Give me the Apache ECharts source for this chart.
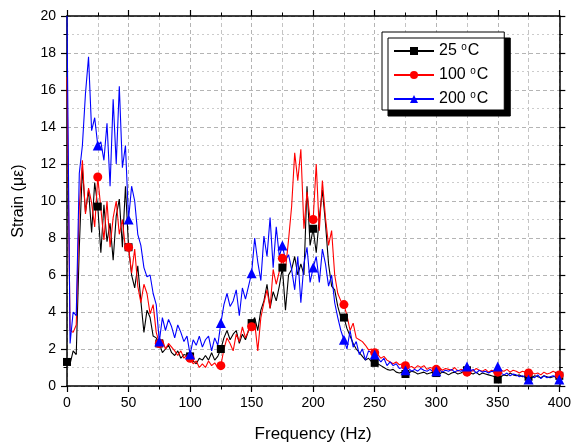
<!DOCTYPE html>
<html>
<head>
<meta charset="utf-8">
<script src="https://cdn.jsdelivr.net/npm/echarts@6/dist/echarts.min.js"></script>
<style>html,body{margin:0;padding:0;background:#fff;}#c{width:574px;height:448px;}</style>
</head>
<body>
<div id="c"></div>
<script>
const freqStep = 2.5;
const seriesNames = ['25 °C', '100 °C', '200 °C'];
const xTicks = [0, 50, 100, 150, 200, 250, 300, 350, 400];
const yTicks = [0, 2, 4, 6, 8, 10, 12, 14, 16, 18, 20];

// 25 °C (black), one row = 25 Hz
const strain25 = [
  1.3, 1.2, 1.9, 1.7, 7.5, 11.8, 9.4, 10.6, 8.3, 11.0,
  9.7, 7.2, 9.8, 7.8, 8.8, 6.8, 9.2, 10.1, 7.5, 10.8,
  7.5, 6.0, 5.3, 6.5, 4.6, 2.9, 4.1, 3.7, 2.7, 2.6,
  2.3, 1.8, 2.0, 2.2, 1.8, 1.65, 1.9, 1.5, 1.7, 1.65,
  1.6, 1.35, 1.2, 1.5, 1.4, 1.65, 1.4, 1.8, 1.4, 1.6,
  2.0, 2.6, 3.0, 2.5, 2.8, 3.0, 2.3, 2.8, 2.5, 3.0,
  3.4, 3.7, 3.0, 4.1, 4.6, 5.5, 4.2, 5.1, 4.6, 5.4,
  6.4, 4.1, 6.0, 6.3, 7.0, 6.0, 6.6, 6.0, 10.8, 7.6,
  8.5, 7.2, 9.1, 10.6, 8.8, 6.6, 5.4, 5.2, 4.3, 3.7,
  3.7, 3.1, 2.7, 2.3, 2.0, 1.8, 1.6, 1.4, 1.5, 1.3,
  1.25, 1.2, 1.1, 1.0, 0.9, 0.85, 0.9, 0.75, 0.7, 0.75,
  0.65, 0.7, 0.8, 0.75, 0.65, 0.7, 0.75, 0.65, 0.7, 0.75,
  0.7, 0.65, 0.75, 0.7, 0.6, 0.7, 0.75, 0.65, 0.7, 0.8,
  0.85, 0.7, 0.65, 0.75, 0.6, 0.7, 0.65, 0.6, 0.55, 0.5,
  0.35, 0.5, 0.6, 0.55, 0.7, 0.6, 0.55, 0.6, 0.5, 0.55,
  0.5, 0.45, 0.55, 0.5, 0.45, 0.55, 0.5, 0.45, 0.5, 0.55,
  0.55
];

// 100 °C (red)
const strain100 = [
  16.7, 3.0, 2.9, 3.3, 9.7, 12.2, 9.3, 10.7, 9.9, 8.6,
  11.3, 9.6, 7.9, 10.0, 7.5, 9.1, 10.0, 8.2, 9.0, 7.4,
  7.5, 6.1, 7.4, 5.4, 4.5, 5.5, 5.0, 3.9, 4.4, 2.9,
  2.3, 2.5, 2.0, 2.3, 2.1, 1.9, 1.65, 1.9, 1.5, 1.7,
  1.5, 1.2, 1.35, 1.0, 1.2, 1.0, 1.35, 1.1, 1.25, 1.0,
  1.1, 2.0, 2.6, 2.3, 1.9, 2.8, 2.4, 3.2, 2.6, 3.0,
  3.2, 3.4, 1.9, 3.7, 4.5, 5.2, 4.2, 6.3, 5.5, 6.2,
  6.9, 6.3, 7.9, 9.7, 12.6, 11.1, 12.8, 8.5, 10.5, 9.0,
  9.0, 12.0, 8.4, 11.1, 9.1, 7.6, 8.4, 6.0, 5.0, 4.6,
  4.4, 3.8, 3.0, 3.4, 2.6, 2.5, 2.4, 2.2, 1.95, 2.0,
  1.8, 1.7, 1.5, 1.6, 1.4, 1.3, 1.2, 1.3, 1.15, 1.2,
  1.1, 1.0, 1.05, 0.95, 1.1, 1.0, 1.1, 0.9, 1.0, 0.95,
  0.9, 1.0, 0.85, 0.95, 0.9, 0.85, 1.0, 0.8, 0.9, 0.85,
  0.75, 0.9, 0.8, 0.95, 0.85, 0.8, 0.9, 0.75, 0.85, 0.8,
  0.75, 0.85, 0.8, 0.9, 0.75, 0.85, 0.8, 0.7, 0.8, 0.75,
  0.7, 0.75, 0.65, 0.7, 0.6, 0.75, 0.65, 0.7, 0.8, 0.7,
  0.6
];

// 200 °C (blue)
const strain200 = [
  20, 2.3, 4.0, 3.8, 11.5, 13.0, 15.8, 17.8, 13.8, 14.5,
  13.0, 13.2, 12.2, 14.2, 10.8, 15.5, 12.0, 16.2, 11.8, 13.0,
  9.0, 10.8, 10.0, 8.2, 7.6, 6.4, 5.9, 6.0, 5.0, 4.4,
  2.4, 3.7, 3.0, 3.6, 3.2, 2.6, 3.3, 2.9, 2.4, 2.7,
  1.7, 2.5, 2.2, 2.7, 2.1, 2.5, 2.7, 1.9, 2.6, 2.2,
  3.4, 4.4, 5.0, 4.3, 4.6, 5.2, 3.8, 5.3, 4.7, 5.4,
  6.1, 8.0, 6.7, 5.7, 8.1, 7.0, 9.1, 6.4, 8.6, 7.0,
  7.6, 6.8, 7.1, 6.3, 5.2, 7.0, 4.5, 6.6, 7.5, 5.6,
  6.4, 7.0, 5.6, 7.4, 6.6, 5.4, 6.0, 4.5, 3.7, 3.0,
  2.5, 2.0, 3.0, 2.1, 2.4, 1.7, 2.0, 1.4, 1.9, 1.8,
  1.7, 1.5, 1.3, 1.5, 1.1, 1.3, 1.1, 1.2, 0.95, 1.0,
  0.85, 0.95, 0.8, 0.9, 0.8, 0.95, 0.85, 0.8, 0.9, 0.75,
  0.8, 0.9, 0.75, 0.85, 0.8, 0.9, 0.75, 0.85, 0.8, 0.9,
  1.05, 0.8, 0.9, 0.7, 0.85, 0.75, 0.8, 0.7, 0.8, 0.75,
  1.05, 0.7, 0.6, 0.7, 0.55, 0.65, 0.6, 0.5, 0.55, 0.45,
  0.35, 0.5, 0.45, 0.6, 0.4, 0.55, 0.45, 0.5, 0.55, 0.45,
  0.35
];

const pairs = arr => arr.map((v, i) => [i * freqStep, v]);
const markEvery = 10; // a symbol every 25 Hz

function makeSeries(name, data, color, symbol, size, skipFirst) {
  return {
    name: name, type: 'line', data: pairs(data),
    xAxisIndex: 0, yAxisIndex: 0,
    symbol: symbol, showSymbol: true, showAllSymbol: true,
    symbolSize: (val, p) => (p.dataIndex % markEvery === 0 && !(skipFirst && p.dataIndex === 0)) ? size : 0,
    lineStyle: { color: color, width: 1.1 },
    itemStyle: { color: color },
    emphasis: { disabled: true },
    clip: true, animation: false
  };
}

const axisCommon = {
  type: 'value',
  axisLine: { show: true, onZero: false, lineStyle: { color: '#000', width: 1.5 } },
  axisTick: { show: true, inside: false, length: 6, lineStyle: { color: '#000', width: 1.2 } },
  minorTick: { show: true, splitNumber: 2, length: 3.5, lineStyle: { color: '#000', width: 1 } }
};

const chart = echarts.init(document.getElementById('c'), null, { renderer: 'canvas' });
chart.setOption({
  backgroundColor: '#fff',
  animation: false,
  grid: { left: 67, right: 11, top: 16, bottom: 62, containLabel: false },
  legend: {
    data: seriesNames,
    orient: 'vertical', left: 382, top: 32,
    padding: [10, 16, 3, 11],
    itemWidth: 40, itemHeight: 10, itemGap: 7,
    backgroundColor: '#fff', borderColor: '#000', borderWidth: 1,
    shadowColor: '#000', shadowBlur: 0, shadowOffsetX: 6, shadowOffsetY: 6,
    formatter: n => { const num = n.split(' ')[0]; return '{a|' + num + ' }{b|o}{a|C}'; },
    textStyle: {
      color: '#000', fontFamily: 'Liberation Sans, Arial, sans-serif', fontSize: 16,
      rich: {
        a: { fontSize: 16, lineHeight: 18, color: '#000', fontFamily: 'Liberation Sans, Arial, sans-serif' },
        b: { fontSize: 10, lineHeight: 18, verticalAlign: 'top', color: '#000', fontFamily: 'Liberation Sans, Arial, sans-serif', padding: [0, 1, 0, 0] }
      }
    }
  },
  xAxis: [
    Object.assign({}, axisCommon, {
      min: xTicks[0], max: xTicks[xTicks.length - 1], interval: xTicks[1] - xTicks[0],
      position: 'bottom',
      name: 'Frequency (Hz)', nameLocation: 'middle', nameGap: 40,
      nameTextStyle: { fontSize: 17, color: '#000', fontFamily: 'Liberation Sans, Arial, sans-serif' },
      axisLabel: { show: true, margin: 10, fontSize: 14, color: '#000', fontFamily: 'Liberation Sans, Arial, sans-serif' },
      splitLine: { show: true, lineStyle: { color: '#b4b4b4', type: [4, 3], width: 1 } },
      minorSplitLine: { show: true, lineStyle: { color: '#c4c4c4', type: [4, 3], width: 1 } }
    }),
    Object.assign({}, axisCommon, {
      min: xTicks[0], max: xTicks[xTicks.length - 1], interval: xTicks[1] - xTicks[0],
      position: 'top',
      axisLabel: { show: false },
      splitLine: { show: false }, minorSplitLine: { show: false }
    })
  ],
  yAxis: [
    Object.assign({}, axisCommon, {
      min: yTicks[0], max: yTicks[yTicks.length - 1], interval: yTicks[1] - yTicks[0],
      position: 'left',
      name: 'Strain (με)', nameLocation: 'middle', nameGap: 40,
      nameTextStyle: { fontSize: 16, color: '#000', fontFamily: 'Liberation Sans, Arial, sans-serif' },
      axisLabel: { show: true, margin: 11, fontSize: 14, color: '#000', fontFamily: 'Liberation Sans, Arial, sans-serif' },
      splitLine: { show: true, lineStyle: { color: '#b4b4b4', type: [4, 3], width: 1 } },
      minorSplitLine: { show: true, lineStyle: { color: '#cccccc', type: [2, 3], width: 1 } }
    }),
    Object.assign({}, axisCommon, {
      min: yTicks[0], max: yTicks[yTicks.length - 1], interval: yTicks[1] - yTicks[0],
      position: 'right',
      axisLabel: { show: false },
      splitLine: { show: false }, minorSplitLine: { show: false }
    })
  ],
  series: [
    makeSeries(seriesNames[0], strain25, '#000000', 'rect', 8, false),
    makeSeries(seriesNames[1], strain100, '#ff0000', 'circle', 9, true),
    makeSeries(seriesNames[2], strain200, '#0000ff', 'triangle', 10, true)
  ]
});
</script>
</body>
</html>
